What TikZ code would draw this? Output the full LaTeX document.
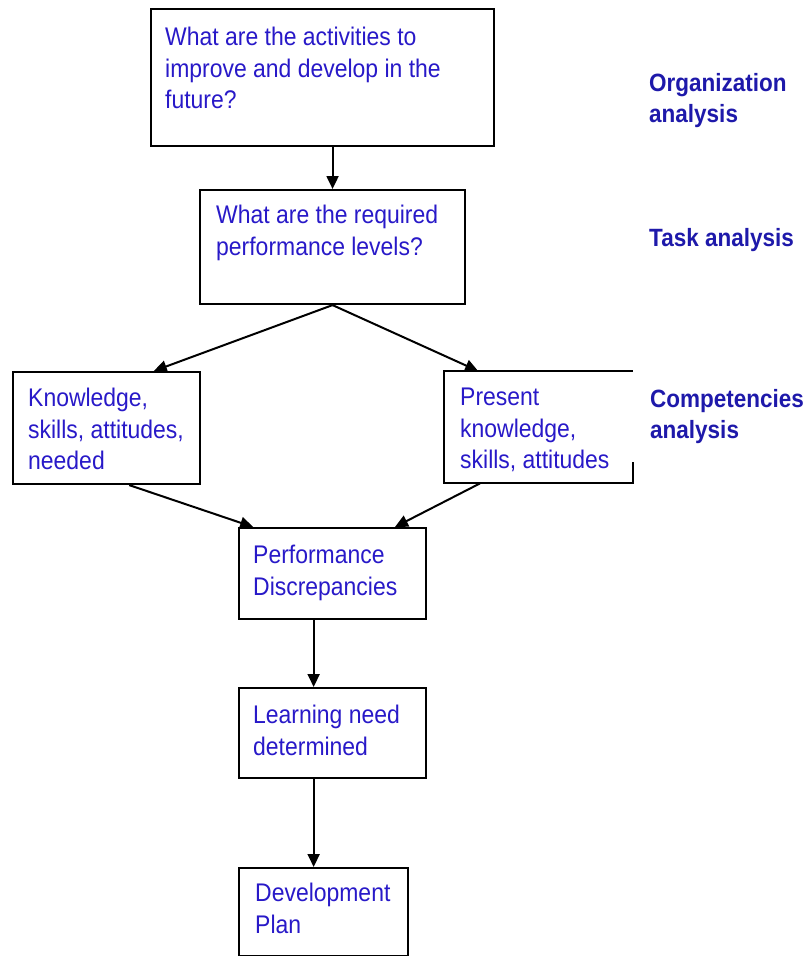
\documentclass[tikz,border=0pt]{standalone}
\usepackage{fontspec}
\setmainfont{Liberation Sans}[FakeStretch=0.9]
\usetikzlibrary{arrows.meta,calc}
\definecolor{txtblue}{RGB}{40,25,200}
\definecolor{lblblue}{RGB}{30,25,170}
\tikzset{
  boxnode/.style={draw=black, line width=2.1pt, anchor=north west, inner sep=0pt},
  openbox/.style={anchor=north west, inner sep=0pt},
  txt/.style={anchor=north west, inner sep=0pt, align=left, text=txtblue,
    font=\fontsize{25.5}{31.5}\selectfont},
  lbl/.style={anchor=north west, inner sep=0pt, align=left, text=lblblue,
    font=\fontsize{25}{31}\selectfont\bfseries},
  arr/.style={line width=2pt, -{Triangle[length=13pt,width=12pt]}}
}
\begin{document}
\begin{tikzpicture}[x=1pt,y=-1pt]
\useasboundingbox (0,0) rectangle (811,956);
% boxes
\node[boxnode, minimum width=343pt, minimum height=137pt] (b1) at (150,8) {};
\node[boxnode, minimum width=265pt, minimum height=114pt] (b2) at (199,189) {};
\node[boxnode, minimum width=187pt, minimum height=112pt] (b3) at (12,371) {};
\node[openbox, minimum width=189pt, minimum height=112pt] (b4) at (444,371) {};
\draw[line width=2.1pt] (b4.south east) ++(0,-21) -- (b4.south east) -- (b4.south west) -- (b4.north west) -- (b4.north east);
\node[boxnode, minimum width=187pt, minimum height=91pt] (b5) at (238,527) {};
\node[boxnode, minimum width=187pt, minimum height=90pt] (b6) at (238,687) {};
\node[boxnode, minimum width=169pt, minimum height=88pt] (b7) at (238,867) {};
% texts
\node[txt] (t1) at (165,27) {What are the activities to\\improve and develop in the\\future?};
\node[txt] (t2) at (216,205) {What are the required\\performance levels?};
\node[txt] (t3) at (28,388) {Knowledge,\\skills, attitudes,\\needed};
\node[txt] (t4) at (460,388) {Present\\knowledge,\\skills, attitudes};
\node[txt] (t5) at (253,545) {Performance\\Discrepancies};
\node[txt] (t6) at (253,705) {Learning need\\determined};
\node[txt] (t7) at (255,883) {Development\\Plan};
% side labels
\node[lbl] (l1) at (649,73) {Organization\\analysis};
\node[lbl] (l2) at (649,228) {Task analysis};
\node[lbl] (l3) at (650,389) {Competencies\\analysis};
% connectors
\draw[arr] (b1.south -| b2.north) -- (b2.north);
\draw[arr] (b2.south) -- ($(b3.north west)!0.75!(b3.north east)$);
\draw[arr] (b2.south) -- ($(b4.north west)!0.18!(b4.north east)$);
\draw[arr] ($(b3.south west)!0.62!(b3.south east)$) -- ($(b5.north west)!0.08!(b5.north east)$);
\draw[arr] ($(b4.south west)!0.19!(b4.south east)$) -- ($(b5.north west)!0.83!(b5.north east)$);
\coordinate (c56) at ($(b5.south west)!0.40!(b5.south east)$);
\draw[arr] (c56) -- (c56 |- b6.north);
\coordinate (c67) at ($(b6.south west)!0.40!(b6.south east)$);
\draw[arr] (c67) -- (c67 |- b7.north);
\end{tikzpicture}
\end{document}
